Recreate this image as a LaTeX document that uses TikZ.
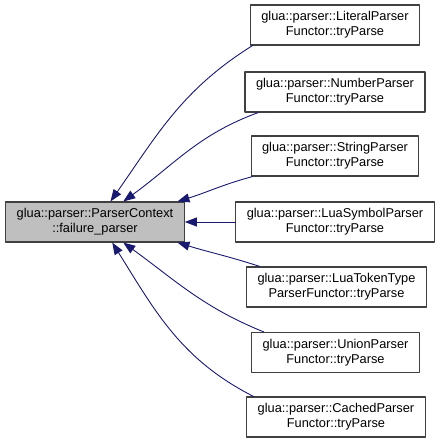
\documentclass[tikz,border=0pt]{standalone}
\usepackage{fontspec}
\setmainfont{Liberation Sans}
\usetikzlibrary{arrows.meta}
\definecolor{edgeblue}{HTML}{191970}
\definecolor{boxgray}{HTML}{BFBFBF}
\begin{document}
\begin{tikzpicture}[x=1pt,y=-1pt,line cap=round,line join=round,
  fn/.style={draw=black!75,line width=1.1pt,fill=white,align=center,inner xsep=11pt,
    minimum height=40pt,font=\fontsize{12.8}{15}\selectfont},
  cur/.style={fn,fill=boxgray},
  call/.style={draw=edgeblue,line width=0.9pt,{Triangle[length=12pt,width=9pt]}-}]
  \useasboundingbox (0,0) rectangle (441,444);
  % current function
  \node[cur] (main) at (95,222) {glua::parser::ParserContext\\::failure\_parser};
  % callers
  \node[fn] (lit) at (335,25) {glua::parser::LiteralParser\\Functor::tryParse};
  \node[fn] (num) at (335,92) {glua::parser::NumberParser\\Functor::tryParse};
  \node[fn] (str) at (335,156) {glua::parser::StringParser\\Functor::tryParse};
  \node[fn] (sym) at (335,222) {glua::parser::LuaSymbolParser\\Functor::tryParse};
  \node[fn] (tok) at (336.5,287) {glua::parser::LuaTokenType\\ParserFunctor::tryParse};
  \node[fn] (uni) at (335.5,352.5) {glua::parser::UnionParser\\Functor::tryParse};
  \node[fn] (cac) at (336,417) {glua::parser::CachedParser\\Functor::tryParse};
  % edges
  \draw[call] (main.53) to[out=55,in=212] (lit.194);
  \draw[call] (main.36) to[out=36,in=200] (num.195);
  \draw[call] (main.14) to[out=17,in=195] (str.194);
  \draw[call] (main.east) -- (sym.west);
  \draw[call] (main.-14) to[out=-17,in=162] (tok.165);
  \draw[call] (main.-36) to[out=-36,in=158] (uni.164);
  \draw[call] (main.-50) to[out=-58,in=153] (cac.166);
\end{tikzpicture}
\end{document}
